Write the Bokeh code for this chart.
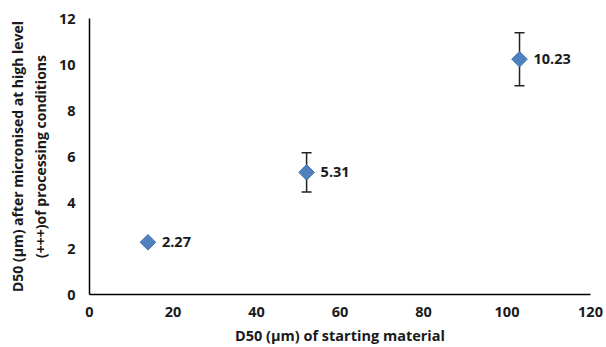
import math
from bokeh.plotting import figure
from bokeh.models import ColumnDataSource, Whisker, LabelSet, Range1d, FixedTicker
from bokeh.core.properties import value
from bokeh.embed import file_html
from bokeh.resources import INLINE

# D50 of starting material vs D50 after micronisation
start_d50 = [14.0, 52.0, 103.0]
micronised_d50 = [2.27, 5.31, 10.23]
error = [0.0, 0.85, 1.15]
labels = ["2.27", "5.31", "10.23"]

x_ticks = [0, 20, 40, 60, 80, 100, 120]
y_ticks = [0, 2, 4, 6, 8, 10, 12]

src = ColumnDataSource(dict(
    x=start_d50,
    y=micronised_d50,
    lower=[v - e for v, e in zip(micronised_d50, error)],
    upper=[v + e for v, e in zip(micronised_d50, error)],
    label=labels,
))

FONT = "Open Sans"
INK = "#1a1a1a"

p = figure(width=606, height=347, output_backend="svg", toolbar_location=None,
           x_range=Range1d(0, 120), y_range=Range1d(0, 12),
           min_border_left=89, min_border_right=16, min_border_top=18,
           min_border_bottom=52)
p.outline_line_color = None
p.xgrid.visible = False
p.ygrid.visible = False
p.background_fill_color = "white"

for ax in (p.xaxis[0], p.yaxis[0]):
    ax.axis_line_color = "black"
    ax.axis_line_width = 1.5
    ax.major_tick_line_color = None
    ax.minor_tick_line_color = None
    ax.major_label_text_font = FONT
    ax.major_label_text_font_style = "bold"
    ax.major_label_text_font_size = "14.5px"
    ax.major_label_text_color = INK
    ax.axis_label_text_font = FONT
    ax.axis_label_text_font_style = "bold"
    ax.axis_label_text_color = INK

p.xaxis.ticker = FixedTicker(ticks=x_ticks)
p.yaxis.ticker = FixedTicker(ticks=y_ticks)
p.xaxis.major_label_standoff = 6
p.yaxis.major_label_standoff = 8
p.xaxis.axis_label = "D50 (µm) of starting material"
p.xaxis.axis_label_text_font_size = "14.5px"
p.xaxis.axis_label_standoff = 6
p.yaxis.axis_label = "D50 (µm) after micronised at high level\n(+++)of processing conditions"
p.yaxis.axis_label_text_font_size = "14px"
p.yaxis.axis_label_standoff = 6

whisker = Whisker(source=src, base="x", lower="lower", upper="upper",
                  line_color="#222222", line_width=1.5)
for head in (whisker.upper_head, whisker.lower_head):
    head.size = 10
    head.line_color = "#222222"
    head.line_width = 1.5
p.add_layout(whisker)

# rotated squares give an even diamond
p.scatter("x", "y", source=src, marker="square", size=11, angle=math.pi / 4,
          fill_color="#4F81BD", line_color="#3F72B0", line_width=1)

p.add_layout(LabelSet(x="x", y="y", text="label", source=src,
                      x_offset=14, y_offset=0, text_baseline="middle",
                      text_font=value(FONT), text_font_style="bold",
                      text_font_size="14.5px", text_color=INK))

open("out.html", "w").write(file_html(p, INLINE))
